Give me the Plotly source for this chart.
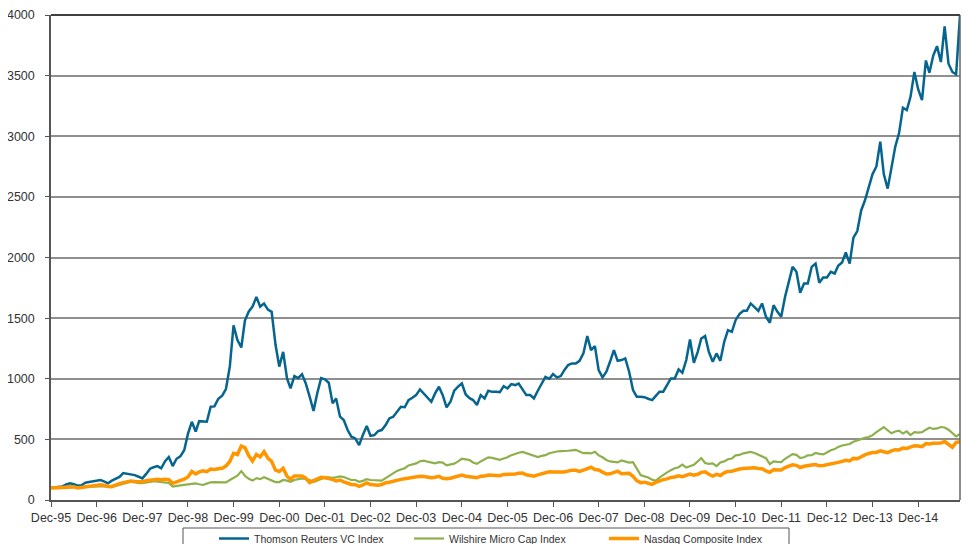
import pandas as pd
import plotly.graph_objects as go

# Monthly index levels, Dec-1995 = 100
thomson_vc = [
    100,
    104, 108, 112, 128, 137, 130, 118, 122, 142, 148, 155, 158,
    165, 152, 138, 160, 178, 190, 222, 218, 214, 205, 192, 178,
    215, 258, 270, 280, 262, 320, 355, 280, 340, 360, 410, 545,
    645, 565, 650, 645, 645, 770, 772, 835, 860, 915, 1100, 1440,
    1320, 1258, 1480, 1555, 1595, 1675, 1595, 1620, 1570, 1552, 1280, 1100,
    1222, 1003, 920, 1022, 1005, 1038, 961, 852, 735, 880, 1005, 995,
    967, 797, 838, 687, 659, 577, 522, 508, 453, 536, 610, 530,
    535, 569, 577, 618, 673, 687, 728, 769, 765, 824, 843, 865,
    912, 880, 845, 810, 879, 934, 865, 764, 810, 901, 935, 961,
    870, 840, 824, 783, 865, 838, 901, 892, 892, 890, 939, 920,
    956, 948, 961, 915, 865, 865, 838, 901, 961, 1016, 1000, 1038,
    1011, 1022, 1071, 1113, 1126, 1126, 1148, 1209, 1352, 1236, 1269, 1071,
    1011, 1058, 1140, 1236, 1148, 1154, 1168, 1058, 907, 852, 852, 848,
    835, 824, 857, 893, 893, 948, 1003, 1003, 1077, 1049, 1154, 1324,
    1132, 1222, 1332, 1352, 1222, 1140, 1209, 1148, 1305, 1401, 1387, 1483,
    1533, 1560, 1560, 1621, 1593, 1560, 1621, 1511, 1461, 1607, 1552, 1511,
    1676, 1818, 1923, 1882, 1709, 1786, 1786, 1923, 1950, 1791, 1835, 1835,
    1882, 1868, 1932, 1959, 2041, 1950, 2164, 2218, 2388, 2470, 2574, 2688,
    2751, 2956, 2688, 2568, 2737, 2915, 3024, 3235, 3216, 3325, 3530, 3388,
    3298, 3625, 3524, 3666, 3743, 3612, 3907, 3598, 3530, 3510, 4000,
]

wilshire_micro = [
    100,
    100, 103, 106, 110, 115, 112, 102, 106, 108, 110, 112, 113,
    118, 115, 108, 106, 115, 125, 135, 142, 150, 148, 140, 140,
    142, 150, 155, 152, 148, 145, 140, 110, 112, 120, 125, 128,
    130, 137, 130, 124, 135, 146, 148, 145, 142, 145, 165, 185,
    200, 238, 200, 175, 160, 180, 172, 188, 175, 162, 148, 148,
    165, 160, 150, 165, 172, 178, 172, 165, 148, 160, 178, 185,
    187, 182, 188, 195, 190, 175, 165, 165, 150, 158, 172, 165,
    162, 160, 160, 180, 202, 225, 240, 252, 262, 285, 292, 302,
    320, 324, 316, 312, 302, 312, 308, 286, 290, 300, 318, 340,
    335, 330, 310, 298, 318, 335, 352, 348, 342, 332, 342, 352,
    370, 384, 390, 396, 385, 370, 362, 354, 364, 370, 386, 396,
    400, 403, 402, 406, 410, 414, 400, 386, 388, 384, 398, 368,
    352, 330, 318, 312, 310, 326, 320, 308, 312, 255, 205, 195,
    185, 168, 158, 185, 210, 228, 245, 262, 270, 292, 268, 278,
    290, 318, 346, 305, 298, 302, 280, 310, 318, 336, 342, 368,
    372, 385, 392, 396, 388, 375, 362, 345, 296, 318, 314, 312,
    340, 360, 378, 372, 345, 352, 368, 370, 388, 380, 376, 392,
    410, 420, 438, 450, 456, 462, 480, 492, 505, 512, 520, 535,
    560, 580, 602, 575, 550, 565, 572, 548, 566, 536, 560, 556,
    560, 580, 596, 586, 590, 602, 598, 580, 548, 525, 545,
]

nasdaq_comp = [
    100,
    101, 104, 104, 110, 112, 108, 100, 104, 112, 114, 120, 122,
    125, 120, 112, 112, 125, 135, 143, 152, 157, 152, 148, 150,
    158, 165, 170, 172, 168, 172, 168, 138, 150, 160, 172, 190,
    236, 215, 232, 240, 234, 255, 252, 258, 262, 280, 318, 385,
    375, 445, 432, 365, 322, 376, 355, 398, 345, 318, 246, 235,
    262, 196, 170, 198, 200, 198, 180, 143, 160, 175, 188, 183,
    178, 170, 158, 165, 150, 140, 128, 126, 112, 125, 140, 127,
    125, 122, 128, 142, 146, 156, 162, 170, 175, 180, 185, 190,
    196, 193, 190, 183, 188, 195, 179, 175, 180, 188, 199, 206,
    196, 193, 188, 183, 196, 197, 206, 204, 205, 200, 211, 210,
    212, 214, 220, 222, 208, 204, 197, 207, 214, 226, 232, 231,
    234, 230, 231, 240, 246, 245, 236, 246, 256, 270, 252, 247,
    230, 214, 216, 228, 238, 216, 218, 220, 196, 160, 143, 147,
    138, 129, 145, 160, 168, 174, 186, 190, 200, 193, 203, 214,
    205, 212, 228, 232, 212, 198, 212, 202, 224, 236, 238, 250,
    255, 260, 262, 268, 265, 260, 258, 240, 228, 250, 246, 247,
    268, 280, 290, 286, 268, 278, 280, 288, 292, 282, 285, 290,
    298, 302, 310, 318, 328, 322, 343, 340, 358, 372, 384, 392,
    392, 405, 398, 390, 405, 415, 413, 428, 425, 438, 448, 445,
    440, 465, 462, 468, 472, 470, 482, 458, 435, 475, 480,
]

series_names = ["Thomson Reuters VC Index", "Wilshire Micro Cap Index", "Nasdaq Composite Index"]
tick_years = list(range(1995, 2015))
tick_labels = ["Dec-%02d" % (y % 100) for y in tick_years]

dates = pd.date_range("1995-12-01", periods=len(thomson_vc), freq="MS")
assert len(thomson_vc) == len(wilshire_micro) == len(nasdaq_comp) == 240

fig = go.Figure()
fig.add_trace(go.Scatter(x=dates, y=thomson_vc, mode="lines", name=series_names[0],
                         line=dict(color="#05658F", width=2.5)))
fig.add_trace(go.Scatter(x=dates, y=wilshire_micro, mode="lines", name=series_names[1],
                         line=dict(color="#8DB04B", width=2.2)))
fig.add_trace(go.Scatter(x=dates, y=nasdaq_comp, mode="lines", name=series_names[2],
                         line=dict(color="#FF9600", width=3.5)))

# The page body has an 8px default margin; keep the figure inside the window
# (no scrollbars), so it spans window pixels 8..961 x 8..544.
OFF = 8
W, H = 969 - 2 * OFF, 552 - 2 * OFF
L, T = 51 - OFF, 15 - OFF
R = W - (960 - OFF)
B = H - (500 - OFF)
pw, ph = W - L - R, H - T - B

def px_x(px):
    # window pixel -> paper fraction
    return (px - OFF - L) / pw

def px_y(py):
    return (H - B - (py - OFF)) / ph

fig.update_layout(
    width=W, height=H,
    margin=dict(l=L, r=R, t=T, b=B, autoexpand=False),
    paper_bgcolor="white", plot_bgcolor="white",
    font=dict(family="Liberation Sans, Arial, sans-serif", color="#333333", size=12.5),
    showlegend=True,
    legend=dict(orientation="h", x=px_x(214), y=px_y(524), xanchor="left", yanchor="top",
                font=dict(size=10.5, color="#333333"), bgcolor="rgba(0,0,0,0)",
                borderwidth=0, itemwidth=30, traceorder="normal",
                entrywidth=150, entrywidthmode="pixels"),
    xaxis=dict(
        type="date",
        range=[dates[0], dates[-1]],
        tickmode="array",
        tickvals=[pd.Timestamp(f"{y}-12-01") for y in tick_years],
        ticktext=tick_labels,
        showgrid=False, zeroline=False,
        showline=True, linecolor="#555555", linewidth=1.5,
        ticks="outside", ticklen=5, tickcolor="#555555", tickwidth=1,
        tickfont=dict(size=12.5, color="#333333"),
        ticklabeloverflow="allow",
        mirror=False,
    ),
    yaxis=dict(
        range=[0, 4000], dtick=500, tick0=0,
        showgrid=True, gridcolor="#8f8f8f", gridwidth=1.5,
        zeroline=False,
        showline=True, linecolor="#555555", linewidth=1.5,
        ticks="outside", ticklen=4, tickcolor="#555555",
        tickfont=dict(size=12.5, color="#333333"),
        ticklabelstandoff=8,
        ticklabeloverflow="allow",
    ),
    shapes=[
        dict(type="line", xref="paper", yref="paper", x0=0, x1=1, y0=1, y1=1,
             line=dict(color="#000000", width=1.5)),
        dict(type="line", xref="paper", yref="paper", x0=1, x1=1, y0=0, y1=1,
             line=dict(color="#666666", width=1.5)),
        dict(type="rect", xref="paper", yref="paper", x0=px_x(183), x1=px_x(789),
             y0=px_y(560), y1=px_y(528), line=dict(color="#555555", width=1),
             fillcolor="rgba(0,0,0,0)"),
    ],
)

fig.write_html("out.html")
